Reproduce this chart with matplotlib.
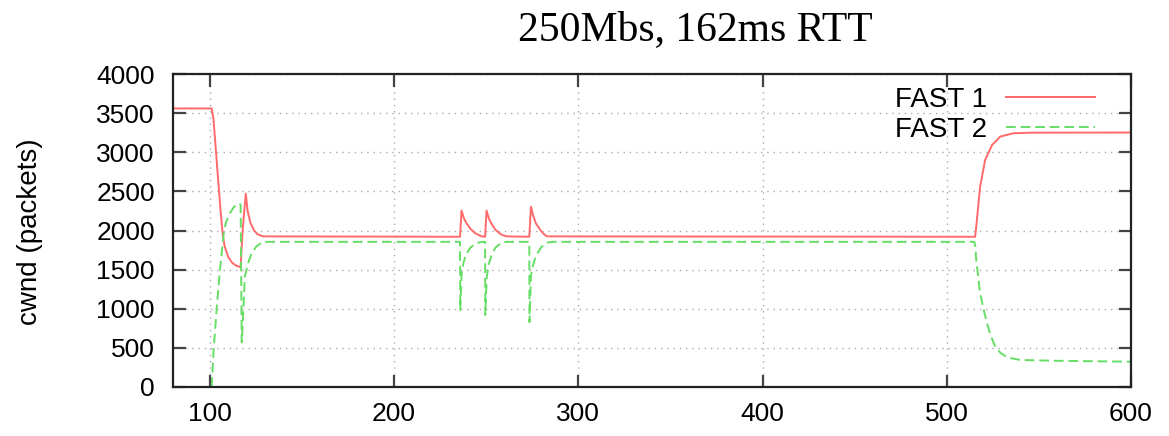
import matplotlib
matplotlib.use('Agg')
import matplotlib.pyplot as plt
from matplotlib.lines import Line2D

# cwnd traces of the two FAST flows (time in s, cwnd in packets)
fast1_t = [80, 101, 102, 104, 106, 107, 108, 110, 112, 114, 116.7,
           117.8, 119.5, 120.5, 122, 124, 126, 129,
           235.8, 236.6, 238, 239.4, 241.5, 244, 247.6,
           249.4, 250.2, 251.5, 253, 255, 258, 261,
           273.4, 274.3, 275.5, 277, 279, 281, 283,
           515.4, 516, 516.7, 518.1, 520.8, 524.5, 529, 536, 545, 600]
fast1_cwnd = [3560, 3560, 3420, 2800, 2200, 1950, 1800, 1660, 1590, 1555, 1530,
              2000, 2470, 2250, 2100, 2000, 1950, 1925,
              1920, 2255, 2150, 2090, 2020, 1965, 1925,
              1920, 2255, 2150, 2080, 2010, 1950, 1925,
              1920, 2305, 2190, 2090, 2020, 1960, 1925,
              1920, 2050, 2220, 2560, 2900, 3090, 3200, 3242, 3250, 3252]

fast2_t = [101, 102, 103.7, 105.5, 107.7, 109, 110.9, 113, 115.5, 116.7,
           117.3, 118, 119, 121, 122.7, 125, 128, 131,
           235.8, 235.9, 236.7, 237.6, 239, 241.2, 243.5, 245.7, 248,
           249.4, 249.5, 250.3, 251.3, 253, 255, 258, 261,
           273.4, 273.5, 274.3, 275.5, 277, 280, 283, 286,
           514.9, 515.5, 516, 517, 518, 520, 522, 524, 526.2, 529, 532.6,
           540, 560, 600]
fast2_cwnd = [0, 450, 1000, 1500, 2000, 2120, 2220, 2300, 2345, 2330,
              570, 900, 1410, 1600, 1710, 1790, 1845, 1855,
              1855, 985, 1450, 1580, 1690, 1775, 1820, 1845, 1855,
              1855, 920, 1400, 1560, 1690, 1780, 1840, 1855,
              1855, 830, 1430, 1560, 1680, 1790, 1845, 1855,
              1855, 1800, 1620, 1420, 1210, 990, 800, 650, 520, 440, 380,
              345, 335, 323]

x_ticks = [100, 200, 300, 400, 500, 600]
y_ticks = [0, 500, 1000, 1500, 2000, 2500, 3000, 3500, 4000]

TITLE = '250Mbs, 162ms RTT'
Y_LABEL = 'cwnd (packets)'
RED = '#ff6a6a'
GREEN = '#66de66'

plt.rcParams['font.family'] = ['Liberation Sans', 'DejaVu Sans']

fig = plt.figure(figsize=(11.69, 4.36), dpi=100)
ax = fig.add_axes([173 / 1169, 1 - 387 / 436, 958 / 1169, 313 / 436])

ax.plot(fast1_t, fast1_cwnd, color=RED, lw=1.4, label='FAST 1')
ax.plot(fast2_t, fast2_cwnd, color=GREEN, lw=1.4, dashes=(5, 2.5), label='FAST 2')

ax.set_xlim(80, 600)
ax.set_ylim(0, 4000)
ax.set_xticks(x_ticks)
ax.set_yticks(y_ticks)
ax.grid(True, color='#aaaaaa', linestyle=(0, (1, 3.5)), linewidth=1)

# gnuplot-like ticks: inward, mirrored on all sides
ax.tick_params(direction='in', length=9, width=1.6, color='#444444',
               top=True, right=True, labelsize=19, pad=11)
ax.tick_params(axis='y', pad=13)
for spine in ax.spines.values():
    spine.set_linewidth(1.6)
    spine.set_color('#222222')

handles = [Line2D([], [], color=RED, lw=1.4),
           Line2D([], [], color=GREEN, lw=1.4, dashes=(5, 2.5))]
ax.legend(handles, ['FAST 1', 'FAST 2'], loc='upper right', markerfirst=False,
          frameon=False, fontsize=20, handlelength=3.2, handletextpad=0.7,
          labelspacing=0.15, borderpad=0, borderaxespad=0,
          bbox_to_anchor=((1095 - 173) / 958, (387 - 87) / 313))

fig.text(695 / 1169, 1 - 30 / 436, TITLE, family=['Liberation Serif', 'DejaVu Serif'],
         fontsize=30, ha='center', va='center')
fig.text(30 / 1169, 1 - 232 / 436, Y_LABEL, fontsize=20, rotation=90,
         ha='center', va='center')

fig.savefig('out.png', dpi=100)
